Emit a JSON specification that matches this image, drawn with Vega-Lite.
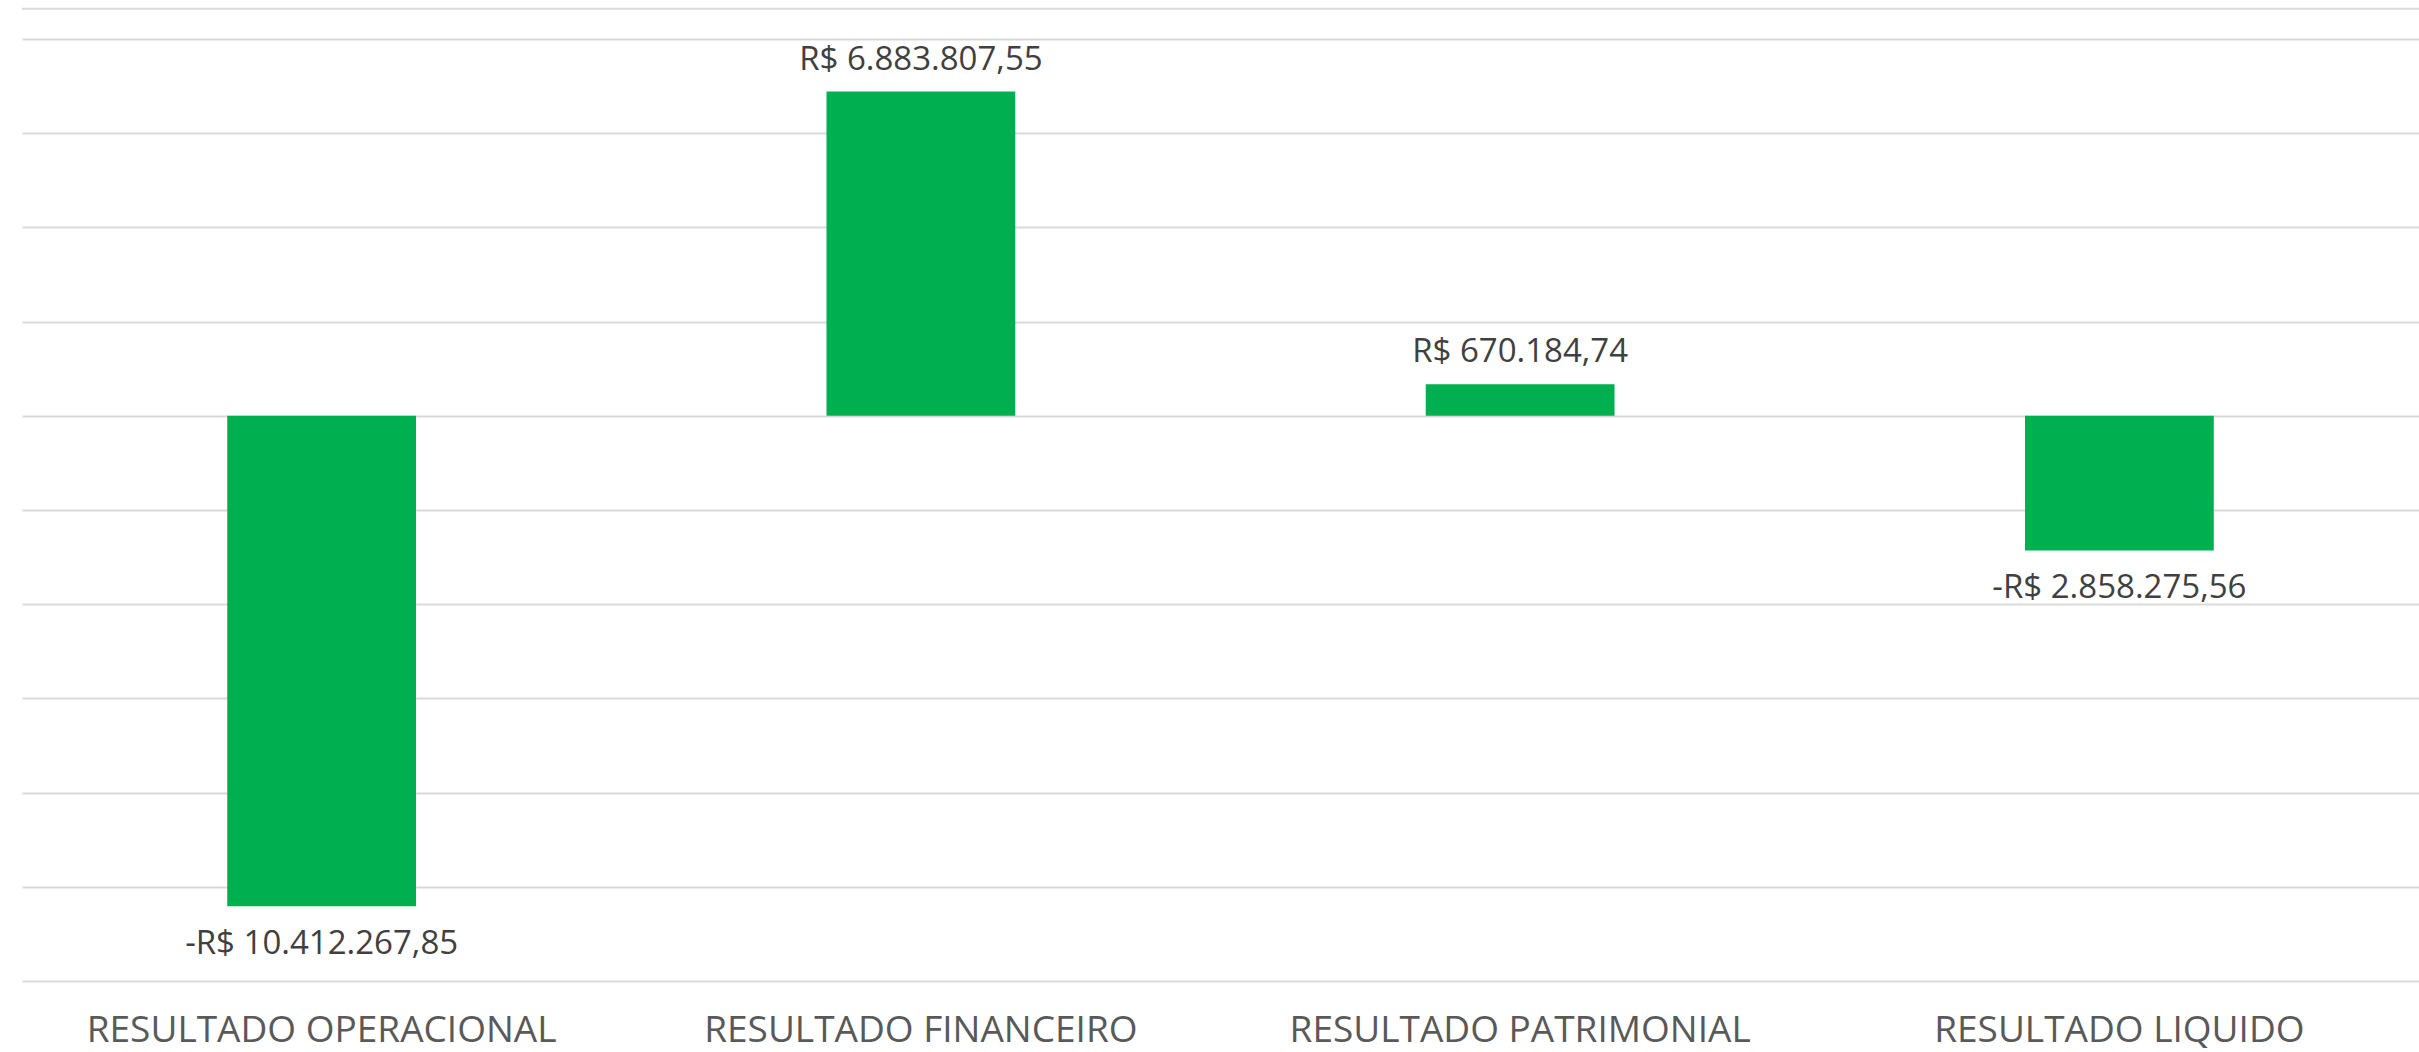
{
  "$schema": "https://vega.github.io/schema/vega-lite/v6.json",
  "width": 2397,
  "height": 942,
  "autosize": {"type": "none"},
  "padding": {"left": 22, "top": 39, "right": 0, "bottom": 71},
  "config": {
    "view": {"stroke": null},
    "font": "Open Sans",
    "locale": {"number": {"decimal": ",", "thousands": ".", "grouping": [3], "currency": ["R$ ", ""], "minus": "-"}}
  },
  "data": {"values": [
    {"categoria": "RESULTADO OPERACIONAL", "valor": -10412267.85},
    {"categoria": "RESULTADO FINANCEIRO", "valor": 6883807.55},
    {"categoria": "RESULTADO PATRIMONIAL", "valor": 670184.74},
    {"categoria": "RESULTADO LIQUIDO", "valor": -2858275.56}
  ]},
  "layer": [
    {
      "mark": {"type": "bar", "color": "#00B050", "width": {"band": 0.315}},
      "encoding": {
        "x": {"field": "categoria", "type": "nominal", "sort": null, "title": null,
          "scale": {"paddingInner": 0, "paddingOuter": 0},
          "axis": {"domain": false, "ticks": false, "labelAngle": 0, "labelFontSize": 37, "labelLimit": 0, "labelColor": "#595959", "labelPadding": 49, "labelBaseline": "middle", "labelFont": "Open Sans"}},
        "y": {"field": "valor", "type": "quantitative", "title": null,
          "scale": {"domain": [-12000000, 8000000], "nice": false, "zero": true},
          "axis": {"values": [-12000000, -10000000, -8000000, -6000000, -4000000, -2000000, 0, 2000000, 4000000, 6000000, 8000000], "labels": false, "domain": false, "ticks": false, "grid": true, "gridColor": "#D9D9D9", "gridWidth": 2}}
      }
    },
    {
      "transform": [{"filter": "datum.valor >= 0"}],
      "mark": {"type": "text", "fontSize": 33, "color": "#404040", "baseline": "middle", "dy": -32},
      "encoding": {
        "x": {"field": "categoria", "type": "nominal", "sort": null},
        "y": {"field": "valor", "type": "quantitative"},
        "text": {"field": "valor", "type": "quantitative", "format": "$,.2f"}
      }
    },
    {
      "transform": [{"filter": "datum.valor < 0"}],
      "mark": {"type": "text", "fontSize": 33, "color": "#404040", "baseline": "middle", "dy": 38},
      "encoding": {
        "x": {"field": "categoria", "type": "nominal", "sort": null},
        "y": {"field": "valor", "type": "quantitative"},
        "text": {"field": "valor", "type": "quantitative", "format": "$,.2f"}
      }
    },
    {
      "data": {"values": [{"borda": 8640000}]},
      "mark": {"type": "rule", "color": "#D9D9D9", "strokeWidth": 2},
      "encoding": {"y": {"field": "borda", "type": "quantitative"}}
    }
  ]
}
